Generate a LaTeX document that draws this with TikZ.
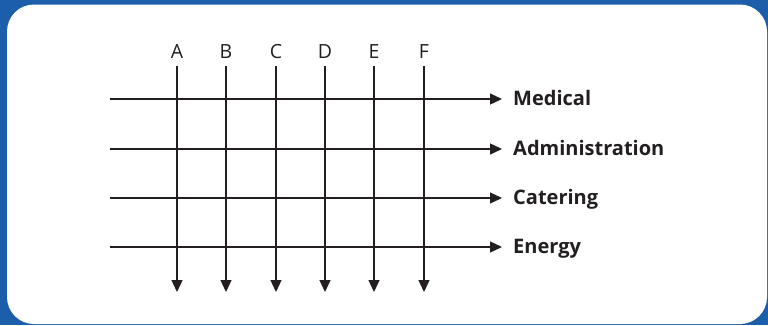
\documentclass[tikz,border=0pt]{standalone}
\usepackage{fontspec}
\setmainfont{Open Sans}
\usetikzlibrary{arrows.meta}
\definecolor{frameblue}{RGB}{28,94,170}
\definecolor{ink}{RGB}{35,31,32}
\tikzset{
  flow/.style={draw=ink, line width=1.3pt, -{Triangle[length=12pt,width=11pt]}},
  colhead/.style={font=\fontsize{19.5}{19.5}\selectfont, text=ink, inner sep=0pt, anchor=base},
  rowlabel/.style={font=\fontsize{20}{20}\bfseries\selectfont, text=ink, inner sep=0pt, anchor=base west},
}
\begin{document}
\begin{tikzpicture}[x=1pt,y=-1pt]
  \useasboundingbox (0,0) rectangle (768,325);
  \fill[frameblue] (0,0) rectangle (768,325);
  \fill[white, rounded corners=27pt] (7,4.5) rectangle (767,324);

  % column heads and vertical flows
  \foreach \name/\x in {A/177,B/226,C/276,D/325,E/374,F/424}{
    \node[colhead] (h\name) at (\x,58) {\name};
    \coordinate (t\name) at (\x,66);
    \coordinate (b\name) at (\x,292);
    \draw[flow] (t\name) -- (b\name);
  }

  % horizontal flows with their labels
  \foreach \id/\y/\lab in {m/99/Medical,a/149/Administration,c/198/Catering,e/247/Energy}{
    \coordinate (s\id) at (110,\y);
    \coordinate (e\id) at (502,\y);
    \node[rowlabel] (l\id) at (513,\y+6) {\lab};
    \draw[flow] (s\id) -- (e\id);
  }
\end{tikzpicture}
\end{document}
